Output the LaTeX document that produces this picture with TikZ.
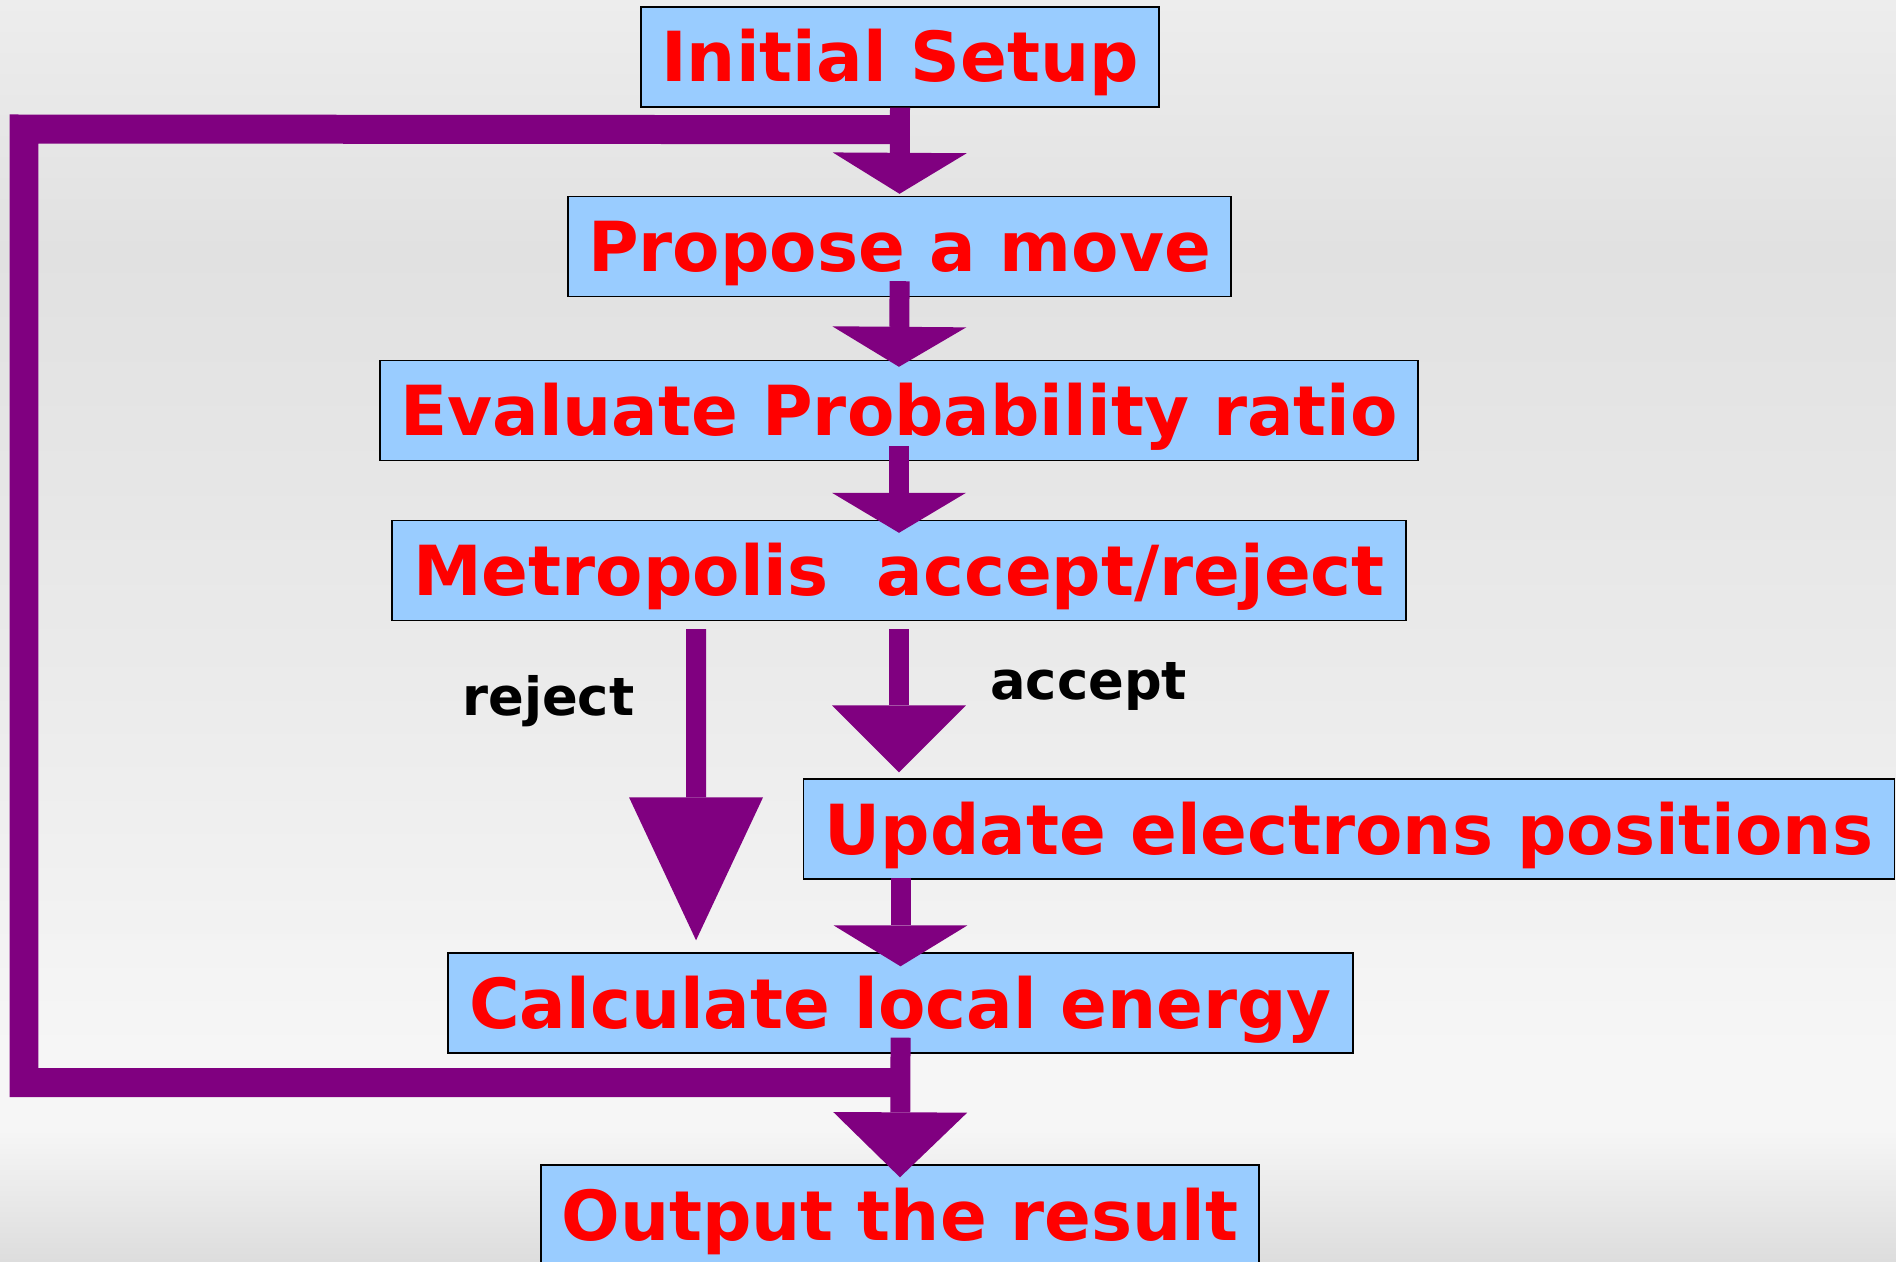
\documentclass[tikz,border=0pt]{standalone}
\usepackage{fontspec}
\setmainfont{DejaVu Sans}
\usepackage{tikz}
\usetikzlibrary{arrows.meta, positioning, calc}

\definecolor{boxblue}{HTML}{99CCFF}
\definecolor{flowpurple}{HTML}{800080}
\definecolor{bgtop}{HTML}{EDEDED}
\definecolor{bgdark}{HTML}{E1E1E1}
\definecolor{bgmid}{HTML}{EAEAEA}
\definecolor{bglight}{HTML}{F6F6F6}
\definecolor{bgfoot}{HTML}{DDDDDD}

\begin{document}
\begin{tikzpicture}[
  x=0.02cm, y=-0.02cm,
  box/.style={rectangle, draw=black, line width=0.8pt, fill=boxblue, text=red, font=\fontsize{39.3}{47}\selectfont\bfseries, minimum height=2cm, text height=1.3cm, text depth=0.3cm, inner sep=0pt},
  lbl/.style={font=\fontsize{30}{36}\selectfont\bfseries, text=black, inner sep=0pt},
  flow/.style={draw=flowpurple, line width=0.4cm},
  loopline/.style={draw=flowpurple, line width=0.58cm, line join=miter},
]
% slide background
\shade[top color=bgtop, bottom color=bgdark] (0,0) rectangle (1896,251);
\shade[top color=bgdark, bottom color=bgmid] (0,250) rectangle (1896,651);
\shade[top color=bgmid, bottom color=bglight] (0,650) rectangle (1896,1051);
\fill[bglight] (0,1050) rectangle (1896,1131);
\shade[top color=bglight, bottom color=bgfoot] (0,1130) rectangle (1896,1261);
\useasboundingbox (0,0) rectangle (1896,1261);

\node[box, minimum width=10.36cm] (init) at (900,57) {Initial Setup};
\node[box, minimum width=13.26cm] (prop) at (899.5,246.5) {Propose a move};
\node[box, minimum width=20.76cm] (eval) at (899,410.5) {Evaluate Probability ratio};
\node[box, minimum width=20.28cm] (metro) at (899,570.5) {Metropolis\ \ accept/reject};
\node[box, minimum width=21.82cm] (update) at (1349,829) {Update electrons positions};
\node[box, minimum width=18.1cm] (calc) at (900.5,1003) {Calculate local energy};
\node[box, minimum width=14.36cm] (out) at (900,1215) {Output the result};

\node[lbl, anchor=base west] (lblreject) at (462,715) {reject};
\node[lbl, anchor=base west] (lblaccept) at (990,699) {accept};

% loop back to a new move
\coordinate (loopstart) at ([yshift=-0.58cm]calc.south);
\coordinate (loopend) at ([yshift=-0.44cm]init.south);
\coordinate (loopleft) at (24,129);
\draw[loopline] (loopstart) -| (loopleft) -- (loopend);

\draw[flow, -{Triangle[width=2.68cm, length=0.82cm, line width=0pt]}, shorten >=0.04cm] (init.south) -- (prop.north);
\draw[flow, -{Triangle[width=2.68cm, length=0.8cm, line width=0pt]}, shorten <=-0.32cm, shorten >=-0.14cm] (prop.south) -- (eval.north);
\draw[flow, -{Triangle[width=2.68cm, length=0.8cm, line width=0pt]}, shorten <=-0.3cm, shorten >=-0.26cm] (eval.south) -- (metro.north);
\draw[flow, -{Triangle[width=2.68cm, length=1.34cm, line width=0pt]}, shorten <=0.16cm, shorten >=0.12cm] (metro.south) -- (metro.south |- update.north);
\draw[flow, -{Triangle[width=2.68cm, length=2.86cm, line width=0pt]}, shorten <=0.16cm, shorten >=0.24cm] ([xshift=-4.06cm]metro.south) -- ([xshift=-4.09cm]calc.north);
\draw[flow, -{Triangle[width=2.68cm, length=0.82cm, line width=0pt]}, shorten <=-0.04cm, shorten >=-0.28cm] (calc.north |- update.south) -- (calc.north);
\draw[flow, -{Triangle[width=2.68cm, length=1.3cm, line width=0pt]}, shorten <=-0.32cm, shorten >=-0.26cm] (calc.south) -- (out.north);
\end{tikzpicture}
\end{document}
